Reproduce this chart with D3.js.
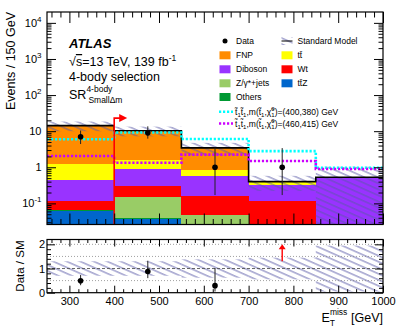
<!DOCTYPE html>
<html>
<head>
<meta charset="utf-8">
<script src="https://cdn.jsdelivr.net/npm/d3@7"></script>
<style>
body { margin: 0; background: #fff; }
svg { font-family: 'Liberation Sans', Arial, Helvetica, sans-serif; }
.axis path { display: none; }
.axis line { stroke: #000; stroke-width: 1; }
</style>
</head>
<body>
<svg id="chart" width="399" height="333"></svg>
<script>
// bin edges in MET [GeV]
var edges = [250, 400, 550, 700, 850, 1000];

// background yields per bin (stack order, bottom first)
var ttZ     = [0.062, 0.037, 0, 0, 0];
var others  = [0.002, 0.002, 0.001, 0, 0];
var zjets   = [0, 0.115, 0.047, 0, 0];
var wt      = [0.053, 0.15, 0.112, 0.117, 0];
var diboson = [0.33, 0.593, 0.426, 0.207, 0.53];
var ttbar   = [0.79, 0.69, 0.254, 0.066, 0];
var fnp     = [13.0, 8.7, 2.6, 0.01, 0];
var smUnc   = [0.30, 0.30, 0.38, 0.45, 0.95];   // relative

// data
var dataN  = [7, 9, 1, 1, 0];
var dataLo = [4.4, 6.2, 0.17, 0.17, 0];
var dataHi = [10.4, 13.6, 3.5, 3.4, 0];

// signal points
var sig400 = [5.95, 9.2, 6.1, 2.8, 0.97];
var sig460 = [2.05, 1.34, 2.24, 1.49, 0.9];

// axis ticks
var xMajor = [300, 400, 500, 600, 700, 800, 900, 1000];
var yDecades = [-1, 0, 1, 2, 3, 4];
var ratioMajor = [0, 1, 2];
var ratioGrid = [0.5, 1.5, 2];

var procs = [
  {key: 'ttZ', vals: ttZ, color: '#0066cc'},
  {key: 'others', vals: others, color: '#009933'},
  {key: 'zjets', vals: zjets, color: '#99cc66'},
  {key: 'wt', vals: wt, color: '#ff0000'},
  {key: 'diboson', vals: diboson, color: '#9933ff'},
  {key: 'ttbar', vals: ttbar, color: '#ffff00'},
  {key: 'fnp', vals: fnp, color: '#ff8c00'}
];

var mL = 47, mR = 383, mT = 12, mB = 224.5, rT = 239.5, rB = 292.7;

var x = d3.scaleLinear().domain([250, 1000]).range([mL, mR]);
var y = d3.scaleLog().domain([0.026, 2e4]).range([mB, mT]).clamp(true);
var ry = d3.scaleLinear().domain([0, 2.2]).range([rB, rT]).clamp(true);

function pos(v) { return Math.max(v, 1e-6); }

var svg = d3.select("#chart");
var defs = svg.append("defs");

var pat = defs.append("pattern").attr("id", "hatch")
  .attr("patternUnits", "userSpaceOnUse")
  .attr("width", 12).attr("height", 5.5)
  .attr("patternTransform", "rotate(24)");
pat.append("line").attr("x1", 0).attr("x2", 12).attr("y1", 2.7).attr("y2", 2.7)
  .attr("stroke", "#5a5aa6").attr("stroke-width", 0.9);

defs.append("clipPath").attr("id", "clipMain").append("rect")
  .attr("x", mL).attr("y", mT).attr("width", mR - mL).attr("height", mB - mT);
defs.append("clipPath").attr("id", "clipRatio").append("rect")
  .attr("x", mL).attr("y", rT).attr("width", mR - mL).attr("height", rB - rT);

// table for the stack
var table = edges.slice(0, -1).map(function(e, i) {
  var o = {lo: e, hi: edges[i + 1]};
  procs.forEach(function(p) { o[p.key] = p.vals[i]; });
  return o;
});
var stacked = d3.stack().keys(procs.map(function(p) { return p.key; }))(table);
var total = table.map(function(d) {
  return d3.sum(procs, function(p) { return d[p.key]; });
});

var gMain = svg.append("g").attr("clip-path", "url(#clipMain)");

gMain.selectAll("g.layer")
  .data(stacked)
  .enter().append("g")
    .attr("class", "layer")
    .attr("fill", function(d, i) { return procs[i].color; })
  .selectAll("rect")
  .data(function(d) { return d; })
  .enter().append("rect")
    .attr("shape-rendering", "crispEdges")
    .attr("x", function(d) { return x(d.data.lo); })
    .attr("width", function(d) { return x(d.data.hi) - x(d.data.lo); })
    .attr("y", function(d) { return y(pos(d[1])); })
    .attr("height", function(d) { return Math.max(0, y(pos(d[0])) - y(pos(d[1]))); });

// uncertainty band
gMain.selectAll("rect.band")
  .data(table)
  .enter().append("rect")
    .attr("class", "band")
    .attr("fill", "url(#hatch)")
    .attr("x", function(d) { return x(d.lo); })
    .attr("width", function(d) { return x(d.hi) - x(d.lo); })
    .attr("y", function(d, i) { return y(total[i] * (1 + smUnc[i])); })
    .attr("height", function(d, i) {
      return y(pos(total[i] * (1 - smUnc[i]))) - y(total[i] * (1 + smUnc[i]));
    });

function stepPts(vals) {
  var p = vals.map(function(v, i) { return [edges[i], v]; });
  p.push([edges[edges.length - 1], vals[vals.length - 1]]);
  return p;
}
var stepLine = d3.line()
  .x(function(d) { return x(d[0]); })
  .y(function(d) { return y(pos(d[1])); })
  .curve(d3.curveStepAfter);

gMain.append("path").attr("d", stepLine(stepPts(total)))
  .attr("fill", "none").attr("stroke", "#000").attr("stroke-width", 1.6);

gMain.append("path").attr("d", stepLine(stepPts(sig400)))
  .attr("fill", "none").attr("stroke", "#00ffff").attr("stroke-width", 2.6)
  .attr("stroke-dasharray", "2.2,1.8");
gMain.append("path").attr("d", stepLine(stepPts(sig460)))
  .attr("fill", "none").attr("stroke", "#cc00ff").attr("stroke-width", 2.6)
  .attr("stroke-dasharray", "2.2,1.8");

// data points
var pts = table.map(function(d, i) {
  return {c: (d.lo + d.hi) / 2, n: dataN[i], lo: dataLo[i], hi: dataHi[i], sm: total[i]};
}).filter(function(d) { return d.n > 0; });

gMain.selectAll("line.err").data(pts).enter().append("line")
  .attr("x1", function(d) { return x(d.c); }).attr("x2", function(d) { return x(d.c); })
  .attr("y1", function(d) { return y(d.lo); }).attr("y2", function(d) { return y(d.hi); })
  .attr("stroke", "#222").attr("stroke-width", 1);
gMain.selectAll("circle.pt").data(pts).enter().append("circle")
  .attr("cx", function(d) { return x(d.c); }).attr("cy", function(d) { return y(d.n); })
  .attr("r", 2.8).attr("fill", "#000");

// cut arrow at 400 GeV
var cutX = 400, cutTop = 23;
gMain.append("path")
  .attr("d", "M" + x(cutX) + "," + mB + "V" + y(cutTop) + "H" + (x(cutX) + 6))
  .attr("fill", "none").attr("stroke", "#ff0000").attr("stroke-width", 1.6);
gMain.append("path")
  .attr("d", "M" + (x(cutX) + 5) + "," + (y(cutTop) - 4) + "L" + (x(cutX) + 13) + "," + y(cutTop) +
        "L" + (x(cutX) + 5) + "," + (y(cutTop) + 4) + "Z")
  .attr("fill", "#ff0000");

// main frame and ticks
var xMinor = d3.range(260, 1001, 20).filter(function(v) { return v % 100 !== 0; });
var yMinor = [];
yDecades.concat([-2]).forEach(function(d) {
  for (var k = 2; k <= 9; k++) {
    var v = k * Math.pow(10, d);
    if (v > 0.026 && v < 2e4) yMinor.push(v);
  }
});
var yMajorVals = yDecades.map(function(d) { return Math.pow(10, d); });

function tickAxis(axis, tf, size, vals) {
  svg.append("g").attr("class", "axis").attr("transform", tf)
    .call(axis.tickValues(vals).tickSize(size).tickFormat(""));
}
tickAxis(d3.axisTop(x), "translate(0," + mB + ")", 11, xMajor);
tickAxis(d3.axisTop(x), "translate(0," + mB + ")", 5.5, xMinor);
tickAxis(d3.axisBottom(x), "translate(0," + mT + ")", 11, xMajor);
tickAxis(d3.axisBottom(x), "translate(0," + mT + ")", 5.5, xMinor);
tickAxis(d3.axisRight(y), "translate(" + mL + ",0)", 9, yMajorVals);
tickAxis(d3.axisRight(y), "translate(" + mL + ",0)", 4.5, yMinor);
tickAxis(d3.axisLeft(y), "translate(" + mR + ",0)", 9, yMajorVals);
tickAxis(d3.axisLeft(y), "translate(" + mR + ",0)", 4.5, yMinor);

svg.append("rect").attr("x", mL).attr("y", mT).attr("width", mR - mL).attr("height", mB - mT)
  .attr("fill", "none").attr("stroke", "#000").attr("stroke-width", 1.2);

// log labels
var yLab = svg.append("g").style("font-size", "11px").attr("text-anchor", "end");
yDecades.forEach(function(d) {
  var t = yLab.append("text").attr("x", 41.5).attr("y", y(Math.pow(10, d)) + 4);
  if (d === 0) { t.text("1"); return; }
  t.append("tspan").text("10");
  if (d !== 1) t.append("tspan").attr("dy", -5).style("font-size", "8px").text(String(d));
});

// ratio panel
var gRatio = svg.append("g").attr("clip-path", "url(#clipRatio)");
gRatio.selectAll("rect.rband").data(table).enter().append("rect")
  .attr("fill", "url(#hatch)")
  .attr("x", function(d) { return x(d.lo); })
  .attr("width", function(d) { return x(d.hi) - x(d.lo); })
  .attr("y", function(d, i) { return ry(1 + smUnc[i]); })
  .attr("height", function(d, i) { return ry(1 - smUnc[i]) - ry(1 + smUnc[i]); });

gRatio.selectAll("line.grid").data(ratioGrid).enter().append("line")
  .attr("x1", mL).attr("x2", mR)
  .attr("y1", function(d) { return ry(d); }).attr("y2", function(d) { return ry(d); })
  .attr("stroke", "#888").attr("stroke-width", 0.8).attr("stroke-dasharray", "1,2");
gRatio.append("line").attr("x1", mL).attr("x2", mR).attr("y1", ry(1)).attr("y2", ry(1))
  .attr("stroke", "#555").attr("stroke-width", 0.9).attr("stroke-dasharray", "3,2");

var inRange = pts.filter(function(d) { return d.n / d.sm <= 2.2; });
var outRange = pts.filter(function(d) { return d.n / d.sm > 2.2; });

gRatio.selectAll("line.rerr").data(inRange).enter().append("line")
  .attr("x1", function(d) { return x(d.c); }).attr("x2", function(d) { return x(d.c); })
  .attr("y1", function(d) { return ry(d.lo / d.sm); }).attr("y2", function(d) { return ry(d.hi / d.sm); })
  .attr("stroke", "#222").attr("stroke-width", 1);
gRatio.selectAll("circle.rpt").data(inRange).enter().append("circle")
  .attr("cx", function(d) { return x(d.c); }).attr("cy", function(d) { return ry(d.n / d.sm); })
  .attr("r", 2.8).attr("fill", "#000");

// off-scale arrows
var arrowFrom = 1.3, arrowTo = 2.0;
outRange.forEach(function(d) {
  var cx = x(d.c);
  gRatio.append("line").attr("x1", cx).attr("x2", cx)
    .attr("y1", ry(arrowFrom)).attr("y2", ry(arrowTo) + 4)
    .attr("stroke", "#ff0000").attr("stroke-width", 1.4);
  gRatio.append("path")
    .attr("d", "M" + (cx - 3.5) + "," + (ry(arrowTo) + 5) + "L" + cx + "," + ry(arrowTo) +
          "L" + (cx + 3.5) + "," + (ry(arrowTo) + 5) + "Z")
    .attr("fill", "#ff0000");
});

var rMinor = d3.range(0.2, 2.2, 0.2).filter(function(v) { return Math.abs(v - Math.round(v)) > 0.01; });
tickAxis(d3.axisTop(x), "translate(0," + rB + ")", 7, xMajor);
tickAxis(d3.axisTop(x), "translate(0," + rB + ")", 3.5, xMinor);
tickAxis(d3.axisBottom(x), "translate(0," + rT + ")", 7, xMajor);
tickAxis(d3.axisBottom(x), "translate(0," + rT + ")", 3.5, xMinor);
tickAxis(d3.axisRight(ry), "translate(" + mL + ",0)", 8, ratioMajor);
tickAxis(d3.axisRight(ry), "translate(" + mL + ",0)", 4, rMinor);
tickAxis(d3.axisLeft(ry), "translate(" + mR + ",0)", 8, ratioMajor);
tickAxis(d3.axisLeft(ry), "translate(" + mR + ",0)", 4, rMinor);

svg.append("rect").attr("x", mL).attr("y", rT).attr("width", mR - mL).attr("height", rB - rT)
  .attr("fill", "none").attr("stroke", "#000").attr("stroke-width", 1.2);

svg.append("g").attr("text-anchor", "end").style("font-size", "11px")
  .selectAll("text").data(ratioMajor).enter().append("text")
  .attr("x", 45).attr("y", function(d) { return ry(d) + 4; })
  .text(function(d) { return d; });

svg.append("g").attr("class", "axis")
  .attr("transform", "translate(0," + rB + ")")
  .call(d3.axisBottom(x).tickValues(xMajor).tickSize(0).tickPadding(5).tickFormat(d3.format("d")))
  .selectAll("text").style("font-size", "11px").style("font-family", "'Liberation Sans', Arial, sans-serif")
  .attr("fill", "#000");

// axis titles
svg.append("text").attr("transform", "translate(15," + mT + ") rotate(-90)")
  .attr("text-anchor", "end").style("font-size", "12.5px").text("Events / 150 GeV");
svg.append("text").attr("transform", "translate(23.5," + (rT + 1) + ") rotate(-90)")
  .attr("text-anchor", "end").style("font-size", "11.5px").text("Data / SM");

var xt = svg.append("text").attr("x", mR).attr("y", 321.5).attr("text-anchor", "end")
  .style("font-size", "12.5px");
xt.append("tspan").text("E");
xt.append("tspan").attr("dy", -7).style("font-size", "8.5px").text("miss");
xt.append("tspan").attr("dx", -17.5).attr("dy", 11).style("font-size", "8.5px").text("T");
xt.append("tspan").attr("dx", 12.5).attr("dy", -4).text(" [GeV]");

// ATLAS label
var lab = svg.append("g");
lab.append("text").attr("x", 69).attr("y", 48).style("font-size", "13px")
  .style("font-weight", "bold").style("font-style", "italic").text("ATLAS");
var t2 = lab.append("text").attr("x", 69).attr("y", 66).style("font-size", "12.5px");
t2.append("tspan").text("\u221A");
t2.append("tspan").style("text-decoration", "overline").text("s");
t2.append("tspan").text("=13 TeV, 139 fb");
t2.append("tspan").attr("dy", -5).style("font-size", "8.5px").text("-1");
lab.append("text").attr("x", 69).attr("y", 80.5).style("font-size", "12.5px").text("4-body selection");
var t4 = lab.append("text").attr("x", 69).attr("y", 98.5).style("font-size", "12.5px");
t4.append("tspan").text("SR");
t4.append("tspan").attr("dy", -7).style("font-size", "8.5px").text("4-body");
t4.append("tspan").attr("dx", -24).attr("dy", 11).style("font-size", "8.5px").text("Small\u0394m");

// legend
var leg = svg.append("g").style("font-size", "8.5px");
var col1 = 219.5, col2 = 281.5, bw = 11, bh = 8;
var legRows = [41, 55.3, 69.3, 83.3, 97];
leg.append("circle").attr("cx", col1 + bw / 2).attr("cy", legRows[0]).attr("r", 2.5).attr("fill", "#000");
leg.append("text").attr("x", 236).attr("y", legRows[0] + 3).text("Data");
leg.append("rect").attr("x", col2).attr("y", legRows[0] - bh / 2).attr("width", bw).attr("height", bh)
  .attr("fill", "url(#hatch)");
leg.append("line").attr("x1", col2).attr("x2", col2 + bw).attr("y1", legRows[0]).attr("y2", legRows[0])
  .attr("stroke", "#000").attr("stroke-width", 1);
leg.append("text").attr("x", 297.5).attr("y", legRows[0] + 3).text("Standard Model");

var legItems = [
  {p: 'fnp', label: 'FNP', col: 0, row: 1},
  {p: 'ttbar', label: 'tt\u0304', col: 1, row: 1},
  {p: 'diboson', label: 'Diboson', col: 0, row: 2},
  {p: 'wt', label: 'Wt', col: 1, row: 2},
  {p: 'zjets', label: 'Z/\u03B3*+jets', col: 0, row: 3},
  {p: 'ttZ', label: 'tt\u0304Z', col: 1, row: 3},
  {p: 'others', label: 'Others', col: 0, row: 4}
];
legItems.forEach(function(it) {
  var c = procs.filter(function(p) { return p.key === it.p; })[0].color;
  var bx = it.col ? col2 : col1, tx = it.col ? 297.5 : 236, ry0 = legRows[it.row];
  leg.append("rect").attr("x", bx).attr("y", ry0 - bh / 2).attr("width", bw).attr("height", bh).attr("fill", c);
  leg.append("text").attr("x", tx).attr("y", ry0 + 3).text(it.label);
});

var sigLeg = [
  {color: '#00ffff', y: 111.7, mass: '(400,380) GeV'},
  {color: '#cc00ff', y: 123.5, mass: '(460,415) GeV'}
];
sigLeg.forEach(function(s) {
  leg.append("line").attr("x1", 219).attr("x2", 233).attr("y1", s.y).attr("y2", s.y)
    .attr("stroke", s.color).attr("stroke-width", 2.6).attr("stroke-dasharray", "2.2,1.8");
  var t = leg.append("text").attr("x", 235).attr("y", s.y + 3);
  t.append("tspan").text("t\u0303");
  t.append("tspan").attr("dy", 2).style("font-size", "6px").text("1");
  t.append("tspan").attr("dy", -2).text("t\u0303");
  t.append("tspan").attr("dy", 2).style("font-size", "6px").text("1");
  t.append("tspan").attr("dy", -2).text(",m(t\u0303");
  t.append("tspan").attr("dy", 2).style("font-size", "6px").text("1");
  t.append("tspan").attr("dy", -2).text(",\u03C7\u0303");
  t.append("tspan").attr("dy", -4).style("font-size", "6px").text("0");
  t.append("tspan").attr("dx", -3.3).attr("dy", 6).style("font-size", "6px").text("1");
  t.append("tspan").attr("dy", -2).text(")=" + s.mass);
});
</script>
</body>
</html>
